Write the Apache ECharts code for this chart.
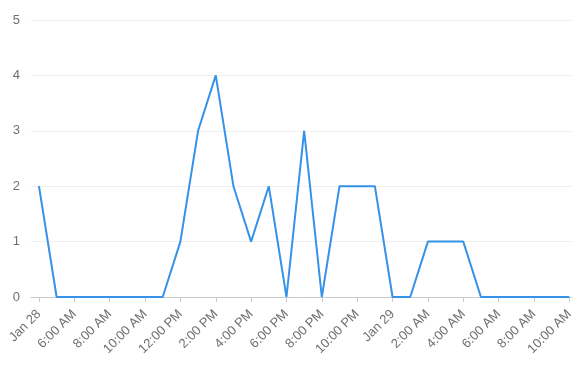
<!DOCTYPE html>
<html>
<head>
<meta charset="utf-8">
<script src="https://cdn.jsdelivr.net/npm/echarts@6/dist/echarts.min.js"></script>
<style>html,body{margin:0;padding:0;background:#fff}#c{width:583px;height:377px}</style>
</head>
<body>
<div id="c"></div>
<script>
// Hourly counts from Jan 28 4:00 AM to Jan 29 10:00 AM (index = hours since start)
var values = [2,0,0,0,0,0,0,0,1,3,4,2,1,2,0,3,0,2,2,2,0,0,1,1,1,0,0,0,0,0,0];
var tickPositions = [0,2,4,6,8,10,12,14,16,18,20,22,24,26,28,30];
var tickLabels = ["Jan 28","6:00 AM","8:00 AM","10:00 AM","12:00 PM","2:00 PM","4:00 PM","6:00 PM","8:00 PM","10:00 PM","Jan 29","2:00 AM","4:00 AM","6:00 AM","8:00 AM","10:00 AM"];
var yTicks = [0,1,2,3,4,5];

var chart = echarts.init(document.getElementById('c'));
var seriesData = values.map(function(v,i){return [i,v];});
chart.setOption({
  animation:false,
  textStyle:{fontFamily:'"Liberation Sans", Arial, sans-serif'},
  grid:{left:31,right:11,top:20,bottom:80,containLabel:false},
  xAxis:{
    type:'value', min:-0.45, max:30.15,
    splitLine:{show:false},
    axisLine:{lineStyle:{color:'#cccccc'}},
    axisTick:{customValues:tickPositions,lineStyle:{color:'#cccccc'},length:5},
    axisLabel:{customValues:tickPositions,rotate:45,color:'#707070',fontSize:13,margin:15,
      formatter:function(v){var k=tickPositions.indexOf(Math.round(v));return k>=0?tickLabels[k]:'';}}
  },
  yAxis:{
    type:'value', min:yTicks[0], max:yTicks[yTicks.length-1], interval:1,
    axisLine:{show:false}, axisTick:{show:false},
    splitLine:{lineStyle:{color:'#f0f0f0'}},
    axisLabel:{color:'#707070',fontSize:13,margin:11}
  },
  series:[{type:'line',data:seriesData,showSymbol:false,symbol:'none',
    lineStyle:{color:'#3592e8',width:2},itemStyle:{color:'#3592e8'}}]
});
</script>
</body>
</html>
